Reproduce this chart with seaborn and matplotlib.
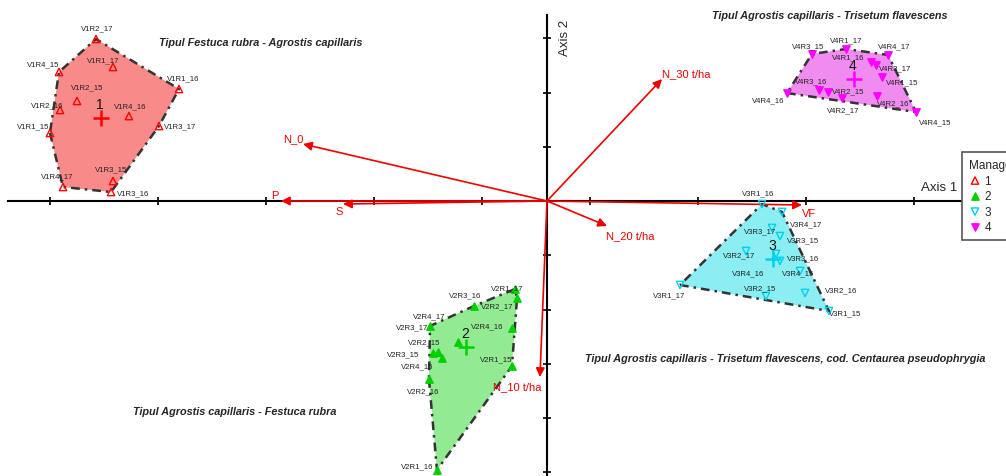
import numpy as np
import pandas as pd
import seaborn as sns
import matplotlib.pyplot as plt

# sample scores on axis 1 / axis 2, one set per management group
names_1 = ["V1R2_17", "V1R1_17", "V1R4_15", "V1R1_16", "V1R2_15", "V1R2_16",
           "V1R4_16", "V1R1_15", "V1R3_17", "V1R3_15", "V1R4_17", "V1R3_16"]
ax1_1 = [-4.157, -4.000, -4.498, -3.392, -4.332, -4.488, -3.853, -4.581, -3.576, -4.000, -4.461, -4.018]
ax2_1 = [1.493, 1.235, 1.189, 1.032, 0.922, 0.839, 0.783, 0.627, 0.691, 0.184, 0.129, 0.083]

names_2 = ["V2R1_17", "V2R2_17", "V2R3_16", "V2R3_17", "V2R4_16", "V2R4_17",
           "V2R2_15", "V2R3_15", "V2R4_15", "V2R1_15", "V2R2_16", "V2R1_16"]
ax1_2 = [-0.295, -0.276, -0.673, -1.078, -0.323, -0.820, -1.051, -1.005, -0.968, -0.323, -1.088, -1.014]
ax2_2 = [-0.811, -0.894, -0.968, -1.152, -1.171, -1.300, -1.401, -1.392, -1.447, -1.521, -1.641, -2.479]

names_3 = ["V3R1_16", "V3R4_17", "V3R3_17", "V3R3_15", "V3R2_17", "V3R4_16",
           "V3R3_16", "V3R4_15", "V3R1_17", "V3R2_15", "V3R2_16", "V3R1_15"]
ax1_3 = [1.982, 2.166, 2.074, 2.147, 1.834, 2.111, 2.147, 2.332, 1.226, 2.018, 2.378, 2.599]
ax2_3 = [-0.028, -0.101, -0.249, -0.323, -0.461, -0.488, -0.553, -0.645, -0.774, -0.876, -0.848, -1.014]

names_4 = ["V4R1_17", "V4R3_15", "V4R4_17", "V4R1_16", "V4R3_17", "V4R1_15",
           "V4R3_16", "V4R2_15", "V4R2_17", "V4R4_16", "V4R2_16", "V4R4_15"]
ax1_4 = [2.756, 2.442, 3.143, 2.986, 3.032, 3.088, 2.507, 2.590, 2.719, 2.212, 3.041, 3.401]
ax2_4 = [1.401, 1.355, 1.346, 1.281, 1.253, 1.143, 1.023, 1.005, 0.949, 0.995, 0.968, 0.820]

# environmental variables (arrow tips)
env_names = ["N_30 t/ha", "N_0", "P", "S", "N_20 t/ha", "VF", "N_10 t/ha"]
env_ax1 = [1.060, -2.249, -2.452, -1.880, 0.553, 2.350, -0.065]
env_ax2 = [1.124, 0.525, 0.000, -0.028, -0.230, -0.037, -1.622]

groups = ["1", "2", "3", "4"]
group_titles = ["Tipul Festuca rubra - Agrostis capillaris",
                "Tipul Agrostis capillaris - Festuca rubra",
                "Tipul Agrostis capillaris - Trisetum flavescens, cod. Centaurea pseudophrygia",
                "Tipul Agrostis capillaris - Trisetum flavescens"]

# ---- layout / styling ----
W, H = 1006, 477
PX = 108.5          # pixels per unit
OX, OY = 547, 202   # origin in pixels

mark_col = {"1": "#ff0000", "2": "#00d000", "3": "#00d0f0", "4": "#ff00ff"}
fill_col = {"1": "#f88a8a", "2": "#92ea92", "3": "#8aeef2", "4": "#f08cf0"}
marker = {"1": "^", "2": "^", "3": "v", "4": "v"}
filled = {"1": False, "2": True, "3": False, "4": True}

# label offsets in pixels (right, up)
lab_off = {
    "V1R2_17": (1, 11), "V1R1_17": (-10, 7), "V1R4_15": (-16, 8), "V1R1_16": (4, 11),
    "V1R2_15": (10, 14), "V1R2_16": (-13, 5), "V1R4_16": (1, 10), "V1R1_15": (-17, 7),
    "V1R3_17": (21, 0), "V1R3_15": (-2, 12), "V1R4_17": (-6, 11), "V1R3_16": (22, -1),
    "V2R1_17": (-8, 1), "V2R2_17": (-20, -8), "V2R3_16": (-9, 11), "V2R3_17": (-18, -1),
    "V2R4_16": (-25, 2), "V2R4_17": (-29, 26), "V2R2_15": (-9, 11), "V2R3_15": (-35, -2),
    "V2R4_15": (-25, -8), "V2R1_15": (-16, 7), "V2R2_16": (-6, -12), "V2R1_16": (-20, 4),
    "V3R1_16": (-4, 11), "V3R4_17": (24, -12), "V3R3_17": (-12, -3), "V3R3_15": (23, -4),
    "V3R2_17": (-7, -4), "V3R4_16": (-28, -19), "V3R3_16": (23, 3), "V3R4_15": (-2, -2),
    "V3R1_17": (-11, -10), "V3R2_15": (-6, 8), "V3R2_16": (36, 3), "V3R1_15": (16, -2),
    "V4R1_17": (0, 9), "V4R3_15": (-4, 8), "V4R4_17": (6, 9), "V4R1_16": (-23, 5),
    "V4R3_17": (19, -3), "V4R1_15": (20, -5), "V4R3_16": (-8, 9), "V4R2_15": (20, 1),
    "V4R2_17": (1, -12), "V4R4_16": (-19, -7), "V4R2_16": (16, -7), "V4R4_15": (19, -10),
}
env_off = [(24, 6), (-10, 6), (-6, 6), (-4, -7), (23, -9), (7, -8), (-23, -9)]
title_pos = [(261, 43), (235, 412), (785, 359), (830, 16)]

df = pd.concat([
    pd.DataFrame({"name": n, "ax1": a, "ax2": b, "group": g})
    for n, a, b, g in [(names_1, ax1_1, ax2_1, "1"), (names_2, ax1_2, ax2_2, "2"),
                       (names_3, ax1_3, ax2_3, "3"), (names_4, ax1_4, ax2_4, "4")]
], ignore_index=True)


def convex_hull(pts):
    pts = sorted(map(tuple, pts))

    def cross(o, a, b):
        return (a[0] - o[0]) * (b[1] - o[1]) - (a[1] - o[1]) * (b[0] - o[0])

    lower, upper = [], []
    for p in pts:
        while len(lower) >= 2 and cross(lower[-2], lower[-1], p) <= 0:
            lower.pop()
        lower.append(p)
    for p in reversed(pts):
        while len(upper) >= 2 and cross(upper[-2], upper[-1], p) <= 0:
            upper.pop()
        upper.append(p)
    h = lower[:-1] + upper[:-1]
    return np.array(h + [h[0]])


sns.set_style("white")
plt.rcParams["font.family"] = ["Liberation Sans", "DejaVu Sans"]

fig = plt.figure(figsize=(W / 100, H / 100), dpi=100)
ax = fig.add_axes([0, 0, 1, 1])
ax.set_xlim(-OX / PX, (W - OX) / PX)
ax.set_ylim(-(H - OY) / PX, OY / PX)

# axes through the origin
for side in ["top", "right"]:
    ax.spines[side].set_visible(False)
ax.spines["left"].set_position(("data", 0))
ax.spines["bottom"].set_position(("data", 0))
for side in ["left", "bottom"]:
    ax.spines[side].set_linewidth(1.5)
    ax.spines[side].set_color("black")
ax.spines["bottom"].set_bounds((8 - OX) / PX, (962 - OX) / PX)
ax.spines["left"].set_bounds(-(H - OY) / PX, (OY - 16) / PX)
ax.set_xticks((np.array([50, 158, 266, 374, 482, 590, 698, 806, 914]) - OX) / PX)
ax.set_yticks([-2.5, -2, -1.5, -1, -0.5, 0.5, 1, 1.5])
ax.tick_params(bottom=True, left=True, direction="inout", length=6, width=1.2,
               color="black", labelbottom=False, labelleft=False)
ax.set_xlabel("")
ax.set_ylabel("")

# group envelopes
for g in groups:
    sub = df[df["group"] == g]
    h = convex_hull(sub[["ax1", "ax2"]].to_numpy())
    ax.fill(h[:, 0], h[:, 1], color=fill_col[g], lw=0, zorder=1)
    ax.plot(h[:, 0], h[:, 1], color="#333333", lw=1.8,
            linestyle=(0, (3.5, 2, 1, 2)), zorder=2)

# environmental arrows
for name, x, y, (dx, dy) in zip(env_names, env_ax1, env_ax2, env_off):
    ax.annotate("", xy=(x, y), xytext=(0, 0),
                arrowprops=dict(arrowstyle="-|>", color="#f00000", lw=1.2,
                                mutation_scale=13, shrinkA=0, shrinkB=0), zorder=4)
    ax.annotate(name, xy=(x, y), xytext=(dx, dy), textcoords="offset pixels",
                ha="center", va="center", color="#f00000", fontsize=8, zorder=6)

# samples
handles = []
for g in groups:
    sub = df[df["group"] == g]
    c = mark_col[g]
    sns.scatterplot(data=sub, x="ax1", y="ax2", marker=marker[g], s=28,
                    facecolor=c if filled[g] else "none", edgecolor=c,
                    linewidth=1.0, ax=ax, zorder=5, label=g, legend=False)
    handles.append(ax.collections[-1])
    for _, r in sub.iterrows():
        dx, dy = lab_off[r["name"]]
        ax.annotate(r["name"], xy=(r["ax1"], r["ax2"]), xytext=(dx, dy),
                    textcoords="offset pixels", ha="center", va="center",
                    fontsize=5.6, color="#222222", zorder=6)

# group centroids
cent = df.groupby("group")[["ax1", "ax2"]].mean().reset_index()
for _, r in cent.iterrows():
    g = r["group"]
    ax.scatter(r["ax1"], r["ax2"], marker="+", s=130, linewidths=1.8,
               color=mark_col[g], zorder=5)
    ax.annotate(g, xy=(r["ax1"], r["ax2"]), xytext=(-1, 14), textcoords="offset pixels",
                ha="center", va="center", fontsize=10, color="#111111", zorder=6)

# axis names and group titles
fig.text(957 / W, 1 - 188 / H, "Axis 1", ha="right", va="center", fontsize=9.5)
fig.text(565 / W, 1 - 38 / H, "Axis 2", ha="center", va="center", rotation=90, fontsize=9.5)
for t, (px, py) in zip(group_titles, title_pos):
    fig.text(px / W, 1 - py / H, t, ha="center", va="center", fontsize=7.8,
             fontweight="bold", fontstyle="italic")

leg = ax.legend(handles=handles, labels=groups, title="Management", loc="upper left",
                bbox_to_anchor=(962 / W, 1 - 153 / H), bbox_transform=fig.transFigure,
                borderaxespad=0, frameon=True, fancybox=False, edgecolor="#555555",
                framealpha=1, alignment="left", handlelength=1.0, handletextpad=0.3,
                labelspacing=0.3, fontsize=8.5, title_fontsize=8.5, borderpad=0.6)
leg.get_frame().set_linewidth(1.2)

fig.savefig("out.png", dpi=100)
